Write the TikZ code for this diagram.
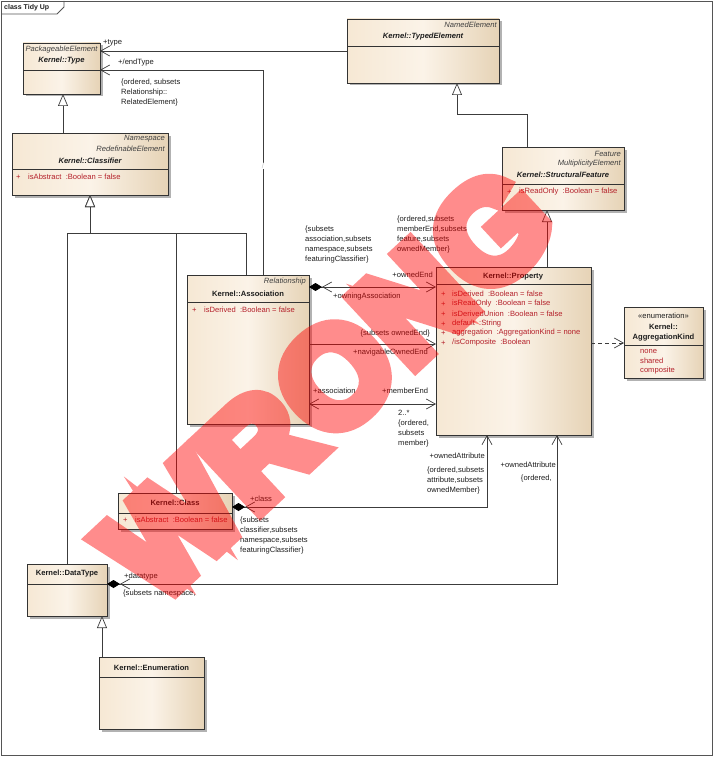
\documentclass[tikz,border=0pt]{standalone}
\usepackage{fontspec}
\setmainfont{Liberation Sans}
\newfontfamily\wmfont[BoldFeatures={FakeBold=11,LetterSpace=3}]{Liberation Sans}
\usetikzlibrary{arrows.meta,shadows}
\definecolor{boxL}{HTML}{F6E8D4}
\definecolor{boxM}{HTML}{FBF3E8}
\definecolor{boxR}{HTML}{E6D3B6}
\definecolor{edgec}{HTML}{333333}
\definecolor{connc}{HTML}{3C3C3C}
\definecolor{attrc}{HTML}{B4202A}
\definecolor{txtc}{HTML}{1E1E1E}
\definecolor{framec}{HTML}{555555}
\tikzset{
  classbox/.style={draw=edgec, line width=0.8pt, left color=boxL, right color=boxR, middle color=boxM,
    anchor=north west, inner sep=0pt, outer sep=0pt,
    drop shadow={shadow xshift=2.5pt, shadow yshift=-2.5pt, opacity=0.3, fill=black}},
  divline/.style={draw=edgec, line width=0.8pt},
  lbl/.style={font=\fontsize{7.6}{10}\selectfont, text=txtc, inner sep=0pt, align=left},
  ital/.style={font=\fontsize{7.6}{10}\selectfont\itshape, text=txtc!85, inner sep=0pt},
  bi/.style={font=\fontsize{7.6}{10}\selectfont\bfseries\itshape, text=txtc, inner sep=0pt},
  bfl/.style={font=\fontsize{7.6}{10}\selectfont\bfseries, text=txtc, inner sep=0pt},
  attr/.style={font=\fontsize{7.6}{10}\selectfont, text=attrc, inner sep=0pt, anchor=west},
  conn/.style={draw=connc, line width=0.7pt},
  gen/.style={conn, -{Triangle[length=12pt,width=10pt,fill=white]}},
  frame/.style={draw=framec, line width=0.9pt}
}
\begin{document}
\begin{tikzpicture}[x=1pt,y=-1pt]
\useasboundingbox (0,0) rectangle (714,757);
% frame
\draw[frame] (1,1) rectangle (712,755);
\draw[frame] (1,14) -- (57,14) -- (64,7) -- (64,1);
\node[font=\fontsize{7}{9}\selectfont\bfseries, text=txtc, anchor=west, inner sep=0pt] (title) at (4,7.5) {class Tidy Up};

% ---------- boxes ----------
% Type
\node[classbox, minimum width=77pt, minimum height=51pt] (type) at (23,43) {};
\draw[divline] (type.west |- 0,70) -- (type.east |- 0,70);
\node[ital] (typeS) at (61.5,50) {PackageableElement};
\node[bi] (typeN) at (61.5,61) {Kernel::Type};

% Classifier
\node[classbox, minimum width=156pt, minimum height=62pt] (classifier) at (12,133) {};
\draw[divline] (classifier.west |- 0,169) -- (classifier.east |- 0,169);
\node[ital, anchor=east] (clsS1) at (165,139) {Namespace};
\node[ital, anchor=east] (clsS2) at (165,149) {RedefinableElement};
\node[bi] (clsN) at (90,161) {Kernel::Classifier};
\node[attr] (clsP) at (16,177) {+};
\node[attr] (clsA) at (28,177) {isAbstract~~:Boolean = false};

% TypedElement
\node[classbox, minimum width=152pt, minimum height=64pt] (typedEl) at (347,19) {};
\draw[divline] (typedEl.west |- 0,46) -- (typedEl.east |- 0,46);
\node[ital, anchor=east] (teS) at (497,25) {NamedElement};
\node[bi] (teN) at (423,37) {Kernel::TypedElement};

% StructuralFeature
\node[classbox, minimum width=122pt, minimum height=63pt] (structural) at (502,147) {};
\draw[divline] (structural.west |- 0,184) -- (structural.east |- 0,184);
\node[ital, anchor=east] (sfS1) at (621,154) {Feature};
\node[ital, anchor=east] (sfS2) at (621,164) {MultiplicityElement};
\node[bi] (sfN) at (563,175) {Kernel::StructuralFeature};
\node[attr] (sfP) at (507,192) {+};
\node[attr] (sfA) at (519,192) {isReadOnly~~:Boolean = false};

% Property
\node[classbox, minimum width=155pt, minimum height=168pt] (property) at (436,267) {};
\draw[divline] (property.west |- 0,284) -- (property.east |- 0,284);
\node[bfl] (prN) at (513,277) {Kernel::Property};
\node[attr] (prP1) at (441,294) {+};
\node[attr] (prA1) at (452,294) {isDerived~~:Boolean = false};
\node[attr] (prP2) at (441,304) {+};
\node[attr] (prA2) at (452,304) {isReadOnly~~:Boolean = false};
\node[attr] (prP3) at (441,314) {+};
\node[attr] (prA3) at (452,314) {isDerivedUnion~~:Boolean = false};
\node[attr] (prP4) at (441,324) {+};
\node[attr] (prA4) at (452,324) {default~~:String};
\node[attr] (prP5) at (441,333) {+};
\node[attr] (prA5) at (452,333) {aggregation~~:AggregationKind = none};
\node[attr] (prP6) at (441,343) {+};
\node[attr] (prA6) at (452,343) {/isComposite~~:Boolean};

% AggregationKind
\node[classbox, minimum width=79pt, minimum height=71pt] (aggkind) at (624,307) {};
\draw[divline] (aggkind.west |- 0,345) -- (aggkind.east |- 0,345);
\node[lbl] (akS) at (663.5,316) {«enumeration»};
\node[bfl] (akN1) at (663.5,327) {Kernel::};
\node[bfl] (akN2) at (663.5,338) {AggregationKind};
\node[attr] (akL1) at (640,351) {none};
\node[attr] (akL2) at (640,361) {shared};
\node[attr] (akL3) at (640,371) {composite};

% Association
\node[classbox, minimum width=122pt, minimum height=149pt] (association) at (187,275) {};
\draw[divline] (association.west |- 0,302) -- (association.east |- 0,302);
\node[ital, anchor=east] (asS) at (306,282) {Relationship};
\node[bfl] (asN) at (248,294) {Kernel::Association};
\node[attr] (asP) at (192,310) {+};
\node[attr] (asA) at (204,310) {isDerived~~:Boolean = false};

% Class
\node[classbox, minimum width=114pt, minimum height=36pt] (class) at (118,493) {};
\draw[divline] (class.west |- 0,513) -- (class.east |- 0,513);
\node[bfl] (clN) at (175,503) {Kernel::Class};
\node[attr] (clP) at (123,520) {+};
\node[attr] (clA) at (135,520) {isAbstract~~:Boolean = false};

% DataType
\node[classbox, minimum width=80pt, minimum height=52pt] (datatype) at (27,564) {};
\draw[divline] (datatype.west |- 0,584) -- (datatype.east |- 0,584);
\node[bfl] (dtN) at (67,574) {Kernel::DataType};

% Enumeration
\node[classbox, minimum width=105pt, minimum height=72pt] (enumeration) at (99,657) {};
\draw[divline] (enumeration.west |- 0,677) -- (enumeration.east |- 0,677);
\node[bfl] (enN) at (151.5,668) {Kernel::Enumeration};

% ---------- connectors ----------
% +type
\draw[conn, -{Straight Barb[length=9pt,width=10pt]}] (typedEl.west |- 0,51) -- (type.east |- 0,51);
\node[lbl, anchor=west] (lType) at (103,43) {+type};
% +/endType
\draw[conn, -{Straight Barb[length=9pt,width=10pt]}] (association.north -| 263,0) |- (type.east |- 0,70);
\node[lbl, anchor=west] (lEndType) at (118,63) {+/endType};
\node[lbl, anchor=north west] (lEndTypeC) at (121,79) {\{ordered, subsets\\Relationship::\\RelatedElement\}};
\node[lbl, text=gray!45, fill=white, inner sep=0.4pt] (lSlash) at (263,166) {/};

% generalizations
\draw[gen] (classifier.north -| 63,0) -- (type.south -| 63,0);
\coordinate (gj) at (90,233);
\draw[gen] (datatype.north -| 67,0) |- (gj) -- (classifier.south -| gj);
\draw[gen] (class.north -| 176,0) |- (gj) -- (classifier.south -| gj);
\draw[gen] (association.north -| 246,0) |- (gj) -- (classifier.south -| gj);
\draw[gen] (structural.north -| 527,0) |- (457,114) -- (typedEl.south -| 457,0);
\draw[gen] (property.north -| 547,0) -- (structural.south -| 547,0);
\draw[gen] (enumeration.north -| 102,0) -- (datatype.south -| 102,0);

% dependency
\draw[conn, dash pattern=on 4pt off 3pt, -{Straight Barb[length=9pt,width=10pt]}] (property.east |- 0,343) -- (aggkind.west |- 0,343);

% owningAssociation / ownedEnd
\draw[conn, {Diamond[length=13pt,width=8pt,fill=black,color=black] Straight Barb[length=9pt,width=10pt]}-{Straight Barb[length=9pt,width=10pt]}] (association.east |- 0,287) -- (property.west |- 0,287);
\node[lbl, anchor=north west] (lAssocC) at (305,226) {\{subsets\\association,subsets\\namespace,subsets\\featuringClassifier\}};
\node[lbl, anchor=north west] (lOwnedEndC) at (397,216) {\{ordered,subsets\\memberEnd,subsets\\feature,subsets\\ownedMember\}};
\node[lbl, anchor=east] (lOwnedEnd) at (433,275) {+ownedEnd};
\node[lbl, anchor=west] (lOwningAssoc) at (333,297) {+owningAssociation};

% navigableOwnedEnd
\draw[conn, -{Straight Barb[length=9pt,width=10pt]}] (association.east |- 0,344) -- (property.west |- 0,344);
\node[lbl, anchor=east] (lNavC) at (430,334) {\{subsets ownedEnd\}};
\node[lbl, anchor=east] (lNav) at (428,353) {+navigableOwnedEnd};

% association / memberEnd
\draw[conn, {Straight Barb[length=9pt,width=10pt]}-{Straight Barb[length=9pt,width=10pt]}] (association.east |- 0,404) -- (property.west |- 0,404);
\node[lbl, anchor=west] (lAssociation) at (313,391) {+association};
\node[lbl, anchor=west] (lMemberEnd) at (382,391) {+memberEnd};
\node[lbl, anchor=north west] (lMemberEndC) at (398,410) {2..*\\\{ordered,\\subsets\\member\}};

% Class - ownedAttribute
\draw[conn, {Diamond[length=13pt,width=8pt,fill=black,color=black] Straight Barb[length=9pt,width=10pt]}-{Straight Barb[length=9pt,width=10pt]}] (class.east |- 0,507) -| (property.south -| 487,0);
\node[lbl, anchor=west] (lClass) at (250,499) {+class};
\node[lbl, anchor=north west] (lClassC) at (240,517) {\{subsets\\classifier,subsets\\namespace,subsets\\featuringClassifier\}};
\node[lbl, anchor=east] (lOwnAttr1) at (485,456) {+ownedAttribute};
\node[lbl, anchor=north west] (lOwnAttr1C) at (427,467) {\{ordered,subsets\\attribute,subsets\\ownedMember\}};

% DataType - ownedAttribute
\draw[conn, {Diamond[length=13pt,width=8pt,fill=black,color=black] Straight Barb[length=9pt,width=10pt]}-{Straight Barb[length=9pt,width=10pt]}] (datatype.east |- 0,584) -| (property.south -| 557,0);
\node[lbl, anchor=west] (lDatatype) at (124,577) {+datatype};
\node[lbl, anchor=west] (lDatatypeC) at (123,594) {\{subsets namespace,};
\node[lbl, anchor=east] (lOwnAttr2) at (556,465) {+ownedAttribute};
\node[lbl, anchor=east] (lOwnAttr2C) at (552,479) {\{ordered,};

% watermark
\begin{scope}[transparency group, opacity=0.45]
\node[text=red, rotate=43, inner sep=0pt,
      font=\wmfont\bfseries\fontsize{136}{136}\selectfont] (wm) at (327,384) {WRONG};
\end{scope}
\end{tikzpicture}
\end{document}
